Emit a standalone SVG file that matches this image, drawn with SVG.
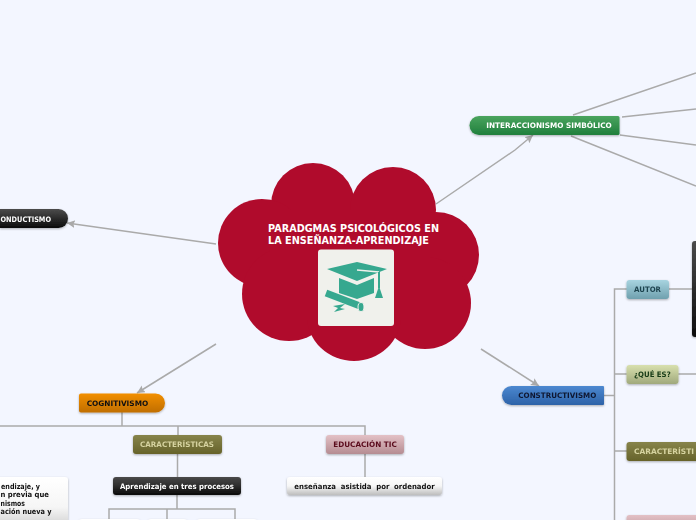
<svg xmlns="http://www.w3.org/2000/svg" width="696" height="520" viewBox="0 0 696 520">
<defs>
<linearGradient id="gGreen" x1="0" y1="0" x2="0" y2="1"><stop offset="0" stop-color="#4aa45e"/><stop offset="1" stop-color="#1f7f3c"/></linearGradient>
<linearGradient id="gBlack" x1="0" y1="0" x2="0" y2="1"><stop offset="0" stop-color="#4c4c4c"/><stop offset="1" stop-color="#0b0b0b"/></linearGradient>
<linearGradient id="gOrange" x1="0" y1="0" x2="0" y2="1"><stop offset="0" stop-color="#f28f06"/><stop offset="1" stop-color="#c06e00"/></linearGradient>
<linearGradient id="gBlue" x1="0" y1="0" x2="0" y2="1"><stop offset="0" stop-color="#4c88d0"/><stop offset="1" stop-color="#2c62a8"/></linearGradient>
<linearGradient id="gOlive" x1="0" y1="0" x2="0" y2="1"><stop offset="0" stop-color="#87844b"/><stop offset="1" stop-color="#66632a"/></linearGradient>
<linearGradient id="gPink" x1="0" y1="0" x2="0" y2="1"><stop offset="0" stop-color="#e3c1c6"/><stop offset="1" stop-color="#b58c92"/></linearGradient>
<linearGradient id="gTeal" x1="0" y1="0" x2="0" y2="1"><stop offset="0" stop-color="#a8d4e0"/><stop offset="1" stop-color="#6fa0ae"/></linearGradient>
<linearGradient id="gLime" x1="0" y1="0" x2="0" y2="1"><stop offset="0" stop-color="#d8e0ae"/><stop offset="1" stop-color="#a0a97c"/></linearGradient>
<linearGradient id="gWhite" x1="0" y1="0" x2="0" y2="1"><stop offset="0" stop-color="#ffffff"/><stop offset="0.5" stop-color="#f6f6f6"/><stop offset="1" stop-color="#bdbdbd"/></linearGradient>
<linearGradient id="gDark" x1="0" y1="0" x2="0" y2="1"><stop offset="0" stop-color="#4a4a4a"/><stop offset="1" stop-color="#0c0c0c"/></linearGradient>
<filter id="sh" x="-10%" y="-20%" width="120%" height="150%"><feDropShadow dx="0" dy="1" stdDeviation="1" flood-color="#000" flood-opacity="0.3"/></filter>
<marker id="arrow" markerUnits="userSpaceOnUse" markerWidth="9" markerHeight="9" refX="8" refY="4" orient="auto"><path d="M0 0L8 4L0 8L1.5 4Z" fill="#a9a9a9"/></marker>
</defs>
<style>
text{font-family:"DejaVu Sans",Verdana,sans-serif;font-weight:700;font-size:7.5px}
.c{fill:none;stroke:#aaaaaa;stroke-width:1.5}
.n{filter:url(#sh)}
.cloud{fill:#b00b2c}
.ic{fill:#36a88f}
</style>
<rect width="696" height="520" fill="#f3f6ff"/>
<g id="connectors">
<path class="c" d="M436 204L515 150L533 135" marker-end="url(#arrow)"/>
<path class="c" d="M216 244L67 223" marker-end="url(#arrow)"/>
<path class="c" d="M216 344L137 393" marker-end="url(#arrow)"/>
<path class="c" d="M481 349L539 386" marker-end="url(#arrow)"/>
<path class="c" d="M573 115L696 73M622 117L696 109M620 135L696 145M571 136L696 186"/>
<path class="c" d="M122 412V426M0 426H365V436M178 426V436M177.500 454V477M177 495V509M109 520V509H235V520M167 509V520"/>
<path class="c" d="M365 454V477"/>
<path class="c" d="M604 395.500H614.500M614.500 520V289H627M614.500 374H627M614.500 451H627M669 289H692M678 374H696"/>
</g>
<g id="central">
<circle class="cloud" cx="313" cy="205" r="42"/>
<circle class="cloud" cx="393" cy="210" r="43"/>
<circle class="cloud" cx="262" cy="243" r="44"/>
<circle class="cloud" cx="436" cy="255" r="43"/>
<circle class="cloud" cx="425" cy="303" r="46"/>
<circle class="cloud" cx="289" cy="294" r="47"/>
<ellipse class="cloud" cx="354" cy="316" rx="47" ry="45"/>
<rect class="cloud" x="270" y="210" width="160" height="110"/>
<text x="268" y="232" fill="#fff" style="font-size:10.5px" textLength="171" lengthAdjust="spacingAndGlyphs">PARADGMAS PSICOLÓGICOS EN</text>
<text x="268" y="244" fill="#fff" style="font-size:10.5px" textLength="161" lengthAdjust="spacingAndGlyphs">LA ENSEÑANZA-APRENDIZAJE</text>
<rect x="318" y="249.500" width="76" height="76.500" rx="3" fill="#f0f1ec"/>
<path class="ic" d="M327 269L357 262L387 269L357 281Z"/>
<path class="ic" d="M339 278L357 285L374 278V293L357 299L339 293Z"/>
<path d="M357 270L379 272" stroke="#f0f1ec" stroke-width="1.500" fill="none"/>
<path d="M379 272V288" stroke="#36a88f" stroke-width="2" fill="none"/>
<path class="ic" d="M379 286L383 298H375Z"/>
<path d="M326 293L360 306" stroke="#36a88f" stroke-width="7" fill="none"/>
<ellipse cx="361" cy="307" rx="3" ry="4.500" fill="#36a88f" stroke="#f0f1ec" stroke-width="1"/>
<path class="ic" d="M333 306L345 304L340 308L345 309L334 312L338 308Z"/>
</g>
<g id="interaccionismo" class="n">
<path d="M479 116H618Q619.500 116 619.500 117.500V133.500Q619.500 135 618 135H479A9.500 9.500 0 0 1 479 116Z" fill="url(#gGreen)"/>
<text x="486.300" y="128" fill="#fff" textLength="125.500" lengthAdjust="spacingAndGlyphs">INTERACCIONISMO SIMBÓLICO</text>
</g>
<g id="conductismo" class="n">
<path d="M0 209H58.500A9.500 9.500 0 0 1 58.500 228H0Z" fill="url(#gBlack)"/>
<text x="0.500" y="222" fill="#fff" textLength="50.500" lengthAdjust="spacingAndGlyphs">ONDUCTISMO</text>
</g>
<g id="cognitivismo" class="n">
<path d="M81 393.500H155.500A9.500 9.500 0 0 1 155.500 412.500H81Q79 412.500 79 410.500V395.500Q79 393.500 81 393.500Z" fill="url(#gOrange)"/>
<text x="86.700" y="406" fill="#111" textLength="61.500" lengthAdjust="spacingAndGlyphs">COGNITIVISMO</text>
</g>
<g id="constructivismo" class="n">
<path d="M511.500 386H603Q604 386 604 387V404Q604 405 603 405H511.500A9.500 9.500 0 0 1 511.500 386Z" fill="url(#gBlue)"/>
<text x="518.300" y="398" fill="#101830" textLength="78" lengthAdjust="spacingAndGlyphs">CONSTRUCTIVISMO</text>
</g>
<g id="caracteristicas-cog" class="n">
<rect x="133" y="435" width="89" height="19" rx="3" fill="url(#gOlive)"/>
<text x="140" y="447" fill="#d6d3a0" textLength="74" lengthAdjust="spacingAndGlyphs">CARACTERÍSTICAS</text>
</g>
<g id="educacion-tic" class="n">
<rect x="326" y="435" width="78" height="19" rx="3" fill="url(#gPink)"/>
<text x="333.300" y="447" fill="#5a0a1c" textLength="63.400" lengthAdjust="spacingAndGlyphs">EDUCACIÓN TIC</text>
</g>
<g id="procesos" class="n">
<rect x="113" y="477" width="128" height="18" rx="3" fill="url(#gDark)"/>
<text x="120" y="489" fill="#fff" textLength="114" lengthAdjust="spacingAndGlyphs">Aprendizaje en tres procesos</text>
</g>
<g id="ensenanza" class="n">
<rect x="287" y="477" width="155" height="18" rx="3" fill="url(#gWhite)"/>
<text x="294.300" y="489" fill="#111" word-spacing="2.500" textLength="140.400" lengthAdjust="spacingAndGlyphs">enseñanza asistida por ordenador</text>
</g>
<g id="aprendizaje-texto" class="n">
<rect x="-40" y="477" width="108" height="60" rx="3" fill="url(#gWhite)"/>
<text x="1" y="489" fill="#111" textLength="39" lengthAdjust="spacingAndGlyphs">endizaje, y</text>
<text x="0.500" y="497" fill="#111" textLength="48.500" lengthAdjust="spacingAndGlyphs">n previa que</text>
<text x="0.500" y="506" fill="#111" textLength="24.500" lengthAdjust="spacingAndGlyphs">nismos</text>
<text x="0.500" y="514" fill="#111" textLength="51" lengthAdjust="spacingAndGlyphs">ación nueva y</text>
</g>
<g id="proc1" class="n"><rect x="79" y="519" width="61" height="12" rx="3" fill="#fff"/></g>
<g id="proc2" class="n"><rect x="148" y="519" width="39" height="12" rx="3" fill="#fff"/></g>
<g id="proc3" class="n"><rect x="197" y="519" width="60" height="12" rx="3" fill="#fff"/></g>
<g id="autor" class="n">
<rect x="626.500" y="280" width="42.500" height="19" rx="3" fill="url(#gTeal)"/>
<text x="634" y="292" fill="#1f4450" textLength="27" lengthAdjust="spacingAndGlyphs">AUTOR</text>
</g>
<g id="autor-box" class="n"><rect x="692" y="241" width="20" height="96" rx="3" fill="url(#gDark)"/></g>
<g id="que-es" class="n">
<rect x="626.500" y="365" width="52" height="19" rx="3" fill="url(#gLime)"/>
<text x="634" y="377" fill="#153a15" textLength="36.700" lengthAdjust="spacingAndGlyphs">¿QUÉ ES?</text>
</g>
<g id="caracteristicas-con" class="n">
<rect x="626.500" y="442" width="89" height="19" rx="3" fill="url(#gOlive)"/>
<text x="634" y="454" fill="#d6d3a0" textLength="60" lengthAdjust="spacingAndGlyphs">CARACTERÍSTI</text>
</g>
<g id="educacion-con" class="n">
<rect x="626.500" y="515" width="89" height="19" rx="3" fill="url(#gPink)"/>
</g>
</svg>
